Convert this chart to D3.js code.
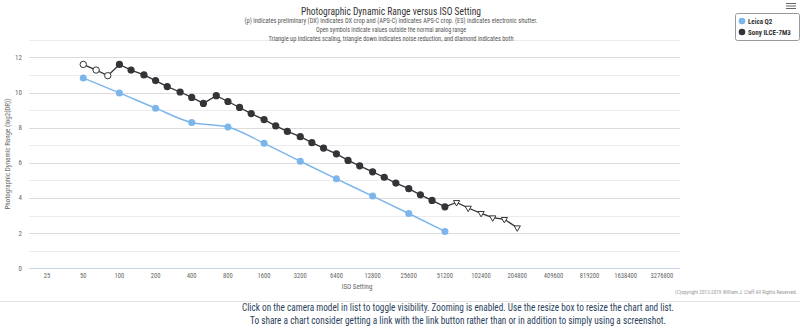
<!DOCTYPE html>
<html><head><meta charset="utf-8">
<script src="https://cdn.jsdelivr.net/npm/d3@7/dist/d3.min.js"></script>
<style>
html,body{margin:0;padding:0;background:#fff;}
svg{display:block;}
text{font-family:"Liberation Sans Narrow","Roboto Condensed","Open Sans",sans-serif;}
</style></head>
<body>
<svg id="c" width="800" height="335"></svg>
<script>
// ---- data ----
const isoTicks = [25,50,100,200,400,800,1600,3200,6400,12800,25600,51200,102400,204800,409600,819200,1638400,3276800];
const yTicks = [0,2,4,6,8,10,12];
const leicaISO = [50,100,200,400,800,1600,3200,6400,12800,25600,51200];
const leicaDR  = [10.83,9.98,9.11,8.29,8.04,7.11,6.09,5.09,4.11,3.12,2.10];
const sonyISO = [50,64,80,100,125,160,200,250,320,400,500,640,800,1000,1250,1600,2000,2500,3200,4000,5000,6400,8000,10000,12800,16000,20000,25600,32000,40000,51200,64000,80000,102400,128000,160000,204800];
const sonyDR  = [11.60,11.28,10.96,11.60,11.28,11.00,10.68,10.34,10.03,9.72,9.38,9.82,9.49,9.15,8.80,8.46,8.10,7.79,7.49,7.15,6.84,6.51,6.14,5.83,5.49,5.18,4.85,4.53,4.18,3.86,3.50,3.75,3.43,3.13,2.88,2.79,2.31];
const sonySym = ["open","open","open","fill","fill","fill","fill","fill","fill","fill","fill","fill","fill","fill","fill","fill","fill","fill","fill","fill","fill","fill","fill","fill","fill","fill","fill","fill","fill","fill","fill","tri","tri","tri","tri","tri","tri"];
const seriesNames = ["Leica Q2","Sony ILCE-7M3"];
const seriesColors = ["#7cb5ec","#333338"];

const svg = d3.select("#c");
const L=29, R=680, T=39.8, B=268.3;
const x = d3.scaleLog().base(2).domain([25/Math.SQRT2, 3276800*Math.SQRT2]).range([L,R]);
const y = d3.scaleLinear().domain([0,13]).range([B,T]);

// gridlines
const gy = d3.range(1,14);
svg.append("g").selectAll("line").data(gy).join("line")
  .attr("x1",L).attr("x2",R).attr("y1",d=>Math.round(y(d))+0.5).attr("y2",d=>Math.round(y(d))+0.5)
  .attr("stroke",d=>d%2===0?"#dcdcdc":"#ececec").attr("stroke-width",1);
// x axis line
svg.append("line").attr("x1",L).attr("x2",R).attr("y1",Math.round(B)+0.5).attr("y2",Math.round(B)+0.5)
  .attr("stroke","#ccd6eb").attr("stroke-width",1);

// y tick labels
svg.append("g").selectAll("text").data(yTicks).join("text")
  .attr("x",22).attr("y",d=>y(d)+2.5).attr("text-anchor","end")
  .attr("font-size",7).attr("fill","#666").text(d=>d);
// x tick labels
svg.append("g").selectAll("text").data(isoTicks).join("text")
  .attr("x",d=>x(d)).attr("y",B+10).attr("text-anchor","middle")
  .attr("font-size",6.6).attr("fill","#666").text(d=>d);
// axis titles
svg.append("text").attr("x",357).attr("y",B+21).attr("text-anchor","middle")
  .attr("font-size",7).attr("fill","#666").text("ISO Setting");
svg.append("text").attr("transform",`translate(10,${(T+B)/2}) rotate(-90)`).attr("text-anchor","middle")
  .attr("font-size",7).attr("fill","#666").text("Photographic Dynamic Range (log2(DR))");

// title & subtitles
svg.append("text").attr("x",391).attr("y",15).attr("text-anchor","middle")
  .attr("font-size",11.5).attr("fill","#333").attr("textLength",180).attr("lengthAdjust","spacingAndGlyphs")
  .text("Photographic Dynamic Range versus ISO Setting");
const subs = ["(p) indicates preliminary (DX) indicates DX crop and (APS-C) indicates APS-C crop. (ES) indicates electronic shutter.",
  "Open symbols indicate values outside the normal analog range",
  "Triangle up indicates scaling, triangle down indicates noise reduction, and diamond indicates both"];
const subW = [293,150,245];
svg.append("g").selectAll("text").data(subs).join("text")
  .attr("x",391).attr("y",(d,i)=>23+i*9).attr("text-anchor","middle")
  .attr("font-size",6.6).attr("fill","#555")
  .attr("textLength",(d,i)=>subW[i]).attr("lengthAdjust","spacingAndGlyphs").text(d=>d);

// lines
const lineLeica = d3.line().x((d,i)=>x(leicaISO[i])).y(d=>y(d)).curve(d3.curveMonotoneX);
svg.append("path").datum(leicaDR).attr("d",lineLeica).attr("fill","none")
  .attr("stroke",seriesColors[0]).attr("stroke-width",1.5);
const lineSony = d3.line().x((d,i)=>x(sonyISO[i])).y(d=>y(d));
svg.append("path").datum(sonyDR).attr("d",lineSony).attr("fill","none")
  .attr("stroke",seriesColors[1]).attr("stroke-width",1.3);

// markers
svg.append("g").selectAll("circle").data(leicaDR).join("circle")
  .attr("cx",(d,i)=>x(leicaISO[i])).attr("cy",d=>y(d)).attr("r",3.5).attr("fill",seriesColors[0]);
const sm = svg.append("g");
sonyDR.forEach((d,i)=>{
  const cx=x(sonyISO[i]), cy=y(d), s=sonySym[i];
  if(s==="fill") sm.append("circle").attr("cx",cx).attr("cy",cy).attr("r",3.6).attr("fill",seriesColors[1]);
  else if(s==="open") sm.append("circle").attr("cx",cx).attr("cy",cy).attr("r",3.2).attr("fill","#fff").attr("stroke",seriesColors[1]).attr("stroke-width",1);
  else sm.append("path").attr("d",d3.symbol(d3.symbolTriangle,17)()).attr("transform",`translate(${cx},${cy}) rotate(180)`)
    .attr("fill","#fff").attr("stroke",seriesColors[1]).attr("stroke-width",1);
});

// legend
svg.append("rect").attr("x",735.5).attr("y",13.5).attr("width",64).attr("height",27).attr("rx",2)
  .attr("fill","#fff").attr("stroke","#999").attr("stroke-width",1);
const lg = svg.append("g").selectAll("g").data(seriesNames).join("g")
  .attr("transform",(d,i)=>`translate(742,${21+i*11})`);
lg.append("circle").attr("r",3.3).attr("fill",(d,i)=>seriesColors[i]);
lg.append("text").attr("x",6).attr("y",2.5).attr("font-size",7).attr("font-weight","bold").attr("fill","#333").text(d=>d);

// menu icon
svg.append("g").selectAll("line").data([0,1,2]).join("line")
  .attr("x1",786).attr("x2",796).attr("y1",d=>3.5+d*2.5).attr("y2",d=>3.5+d*2.5)
  .attr("stroke","#666").attr("stroke-width",1);

// copyright
svg.append("text").attr("x",797).attr("y",294).attr("text-anchor","end")
  .attr("font-size",4.6).attr("fill","#999").attr("textLength",122).attr("lengthAdjust","spacingAndGlyphs")
  .text("(C)opyright 2012-2019 William J. Claff All Rights Reserved.");

// separator
svg.append("line").attr("x1",0).attr("x2",800).attr("y1",301.5).attr("y2",301.5).attr("stroke","#e3e3e3");

// bottom notes
const notes = ["Click on the camera model in list to toggle visibility. Zooming is enabled. Use the resize box to resize the chart and list.",
  "To share a chart consider getting a link with the link button rather than or in addition to simply using a screenshot."];
const noteW = [432,416];
svg.append("g").selectAll("text").data(notes).join("text")
  .attr("x",458).attr("y",(d,i)=>311+i*13).attr("text-anchor","middle")
  .attr("font-size",10).attr("fill","#2b3f5c")
  .attr("textLength",(d,i)=>noteW[i]).attr("lengthAdjust","spacingAndGlyphs").text(d=>d);
</script>
</body></html>
